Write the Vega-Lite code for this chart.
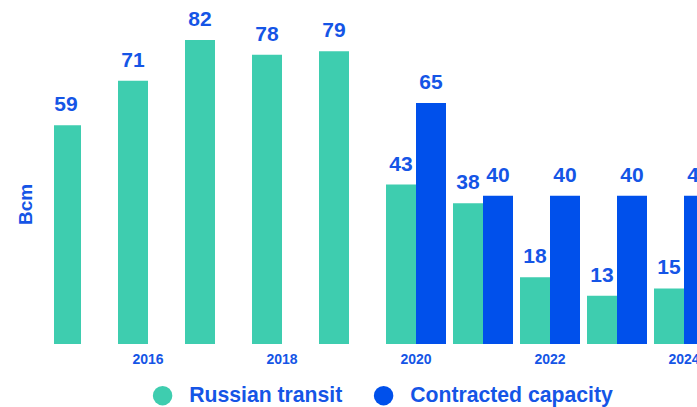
{
  "$schema": "https://vega.github.io/schema/vega-lite/v6.json",
  "autosize": "none",
  "padding": {"left": 54, "top": 0, "right": 0, "bottom": 63},
  "width": 643,
  "height": 344,
  "background": "white",
  "config": {
    "view": {"stroke": null},
    "font": "Liberation Sans",
    "text": {"font": "Liberation Sans"}
  },
  "data": {
    "values": [
      {"year": 2015, "series": "Russian transit", "value": 59},
      {"year": 2016, "series": "Russian transit", "value": 71},
      {"year": 2017, "series": "Russian transit", "value": 82},
      {"year": 2018, "series": "Russian transit", "value": 78},
      {"year": 2019, "series": "Russian transit", "value": 79},
      {"year": 2020, "series": "Russian transit", "value": 43},
      {"year": 2020, "series": "Contracted capacity", "value": 65},
      {"year": 2021, "series": "Russian transit", "value": 38},
      {"year": 2021, "series": "Contracted capacity", "value": 40},
      {"year": 2022, "series": "Russian transit", "value": 18},
      {"year": 2022, "series": "Contracted capacity", "value": 40},
      {"year": 2023, "series": "Russian transit", "value": 13},
      {"year": 2023, "series": "Contracted capacity", "value": 40},
      {"year": 2024, "series": "Russian transit", "value": 15},
      {"year": 2024, "series": "Contracted capacity", "value": 40}
    ]
  },
  "encoding": {
    "x": {
      "field": "year",
      "type": "ordinal",
      "scale": {
        "domain": [2015, 2016, 2017, 2018, 2019, 2020, 2021, 2022, 2023, 2024],
        "range": [-3, 660],
        "paddingInner": 0.104478,
        "paddingOuter": 0
      },
      "axis": {
        "title": null,
        "values": [2016, 2018, 2020, 2022, 2024],
        "labelAngle": 0,
        "domain": false,
        "ticks": false,
        "tickSize": 0,
        "labelPadding": 8,
        "labelFont": "Liberation Sans",
        "labelFontSize": 14,
        "labelFontWeight": "bold",
        "labelColor": "#1555E6",
        "labelBaseline": "top"
      }
    },
    "xOffset": {
      "field": "series",
      "type": "nominal",
      "scale": {"domain": ["Russian transit", "Contracted capacity"], "paddingInner": 0, "paddingOuter": 0}
    },
    "y": {
      "field": "value",
      "type": "quantitative",
      "scale": {"domain": [0, 92.8], "nice": false, "zero": true},
      "axis": {
        "title": "Bcm",
        "labels": false,
        "ticks": false,
        "domain": false,
        "grid": false,
        "titleFont": "Liberation Sans",
        "titleFontSize": 19,
        "titleFontWeight": "bold",
        "titleColor": "#1555E6",
        "titleAngle": -90,
        "titleAlign": "center",
        "titleBaseline": "middle",
        "titleX": -29,
        "titleY": 204
      }
    }
  },
  "layer": [
    {
      "mark": {"type": "bar", "clip": true},
      "encoding": {
        "color": {
          "field": "series",
          "type": "nominal",
          "scale": {"domain": ["Russian transit", "Contracted capacity"], "range": ["#3ECDAF", "#0050EB"]},
          "legend": {
            "title": null,
            "orient": "none",
            "direction": "horizontal",
            "legendX": 98,
            "legendY": 385,
            "symbolType": "circle",
            "symbolSize": 380,
            "symbolStrokeWidth": 0,
            "labelFont": "Liberation Sans",
            "labelFontSize": 21.2,
            "labelFontWeight": "bold",
            "labelColor": "#1555E6",
            "labelOffset": 16,
            "columnPadding": 30,
            "labelLimit": 400
          }
        }
      }
    },
    {
      "mark": {
        "type": "text",
        "clip": true,
        "dy": -14,
        "baseline": "alphabetic",
        "align": "center",
        "font": "Liberation Sans",
        "fontSize": 21,
        "fontWeight": "bold",
        "color": "#1555E6"
      },
      "encoding": {
        "text": {"field": "value", "type": "quantitative"}
      }
    }
  ]
}
